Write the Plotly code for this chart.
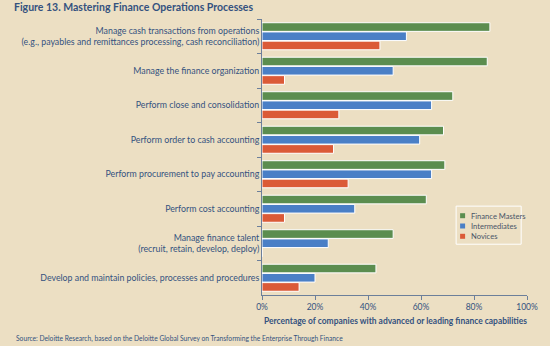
import plotly.graph_objects as go

# Finance process categories, listed top to bottom
categories = [
    "Manage cash transactions from operations<br>(e.g., payables and remittances processing, cash reconciliation)",
    "Manage the finance organization",
    "Perform close and consolidation",
    "Perform order to cash accounting",
    "Perform procurement to pay accounting",
    "Perform cost accounting",
    "Manage finance talent<br>(recruit, retain, develop, deploy)",
    "Develop and maintain policies, processes and procedures",
]

# Share of companies with advanced or leading capabilities (%)
finance_masters = [86, 85, 72, 68.5, 69, 62, 49.5, 43]
intermediates = [54.5, 49.5, 64, 59.5, 64, 35, 25, 20]
novices = [44.5, 8.5, 29, 27, 32.5, 8.5, 0, 14]

series_names = ["Finance Masters", "Intermediates", "Novices"]
series_colors = ["#5b8d4f", "#4a7fc6", "#db5a37"]

x_ticks = [0, 20, 40, 60, 80, 100]

BG = "#ecdfc3"
TEXT = "#34527f"
AXIS = "#6c7f9a"
FONT = "Lato"

fig = go.Figure()
for name, vals, col in zip(series_names, [finance_masters, intermediates, novices], series_colors):
    fig.add_trace(go.Bar(
        y=categories, x=vals, name=name, orientation="h",
        marker=dict(color=col, line=dict(color="#ffffff", width=1)),
        showlegend=False, hoverinfo="x+name",
    ))

fig.update_layout(
    width=550, height=346,
    margin=dict(l=262, r=13, t=19, b=51),
    paper_bgcolor=BG, plot_bgcolor=BG,
    barmode="group", bargap=0.2, bargroupgap=0.06,
    font=dict(family=FONT, color=TEXT, size=9),
    showlegend=False,
)

fig.update_xaxes(
    range=[0, 100], tickvals=x_ticks, ticktext=[f"{v}%" for v in x_ticks],
    showgrid=False, zeroline=False, showline=True, linecolor=AXIS, linewidth=1,
    ticks="outside", ticklen=4, tickcolor=AXIS, tickfont=dict(size=8.5, color=TEXT),
)
fig.update_yaxes(
    categoryorder="array", categoryarray=categories, autorange="reversed",
    showgrid=False, zeroline=False, showline=True, linecolor=AXIS, linewidth=1,
    ticks="outside", ticklen=4, tickcolor=AXIS, tickson="boundaries",
    tickfont=dict(size=8.8, color=TEXT),
)

# Custom legend box with small square swatches
legend_rows = [0.2873, 0.25, 0.2127]
shapes = [dict(type="rect", xref="paper", yref="paper", x0=0.7325, x1=0.978, y0=0.184, y1=0.322,
               line=dict(color="#ffffff", width=1), fillcolor="rgba(0,0,0,0)")]
annotations = []
for name, col, yy in zip(series_names, series_colors, legend_rows):
    shapes.append(dict(type="rect", xref="paper", yref="paper", xsizemode="pixel", ysizemode="pixel",
                       xanchor=0.757, yanchor=yy, x0=-2.5, x1=2.5, y0=-2.5, y1=2.5,
                       line=dict(width=0), fillcolor=col))
    annotations.append(dict(text=name, xref="paper", yref="paper", x=0.783, y=yy,
                            xanchor="left", yanchor="middle", showarrow=False,
                            font=dict(size=7.6, color="#4a5568", family=FONT)))

annotations += [
    dict(text="<b>Figure 13. Mastering Finance Operations Processes</b>", xref="paper", yref="paper",
         x=-0.945, y=1.0417, xanchor="left", yanchor="middle", showarrow=False,
         font=dict(size=10.5, color=TEXT, family=FONT)),
    dict(text="<b>Percentage of companies with advanced or leading finance capabilities</b>",
         xref="paper", yref="paper", x=0.505, y=-0.094, xanchor="center", yanchor="middle",
         showarrow=False, font=dict(size=8.45, color=TEXT, family=FONT)),
    dict(text="Source: Deloitte Research, based on the Deloitte Global Survey on Transforming the Enterprise Through Finance",
         xref="paper", yref="paper", x=-0.9377, y=-0.156, xanchor="left", yanchor="middle",
         showarrow=False, font=dict(size=6.7, color=TEXT, family=FONT)),
]
fig.update_layout(shapes=shapes, annotations=annotations)

fig.write_html("out.html")
